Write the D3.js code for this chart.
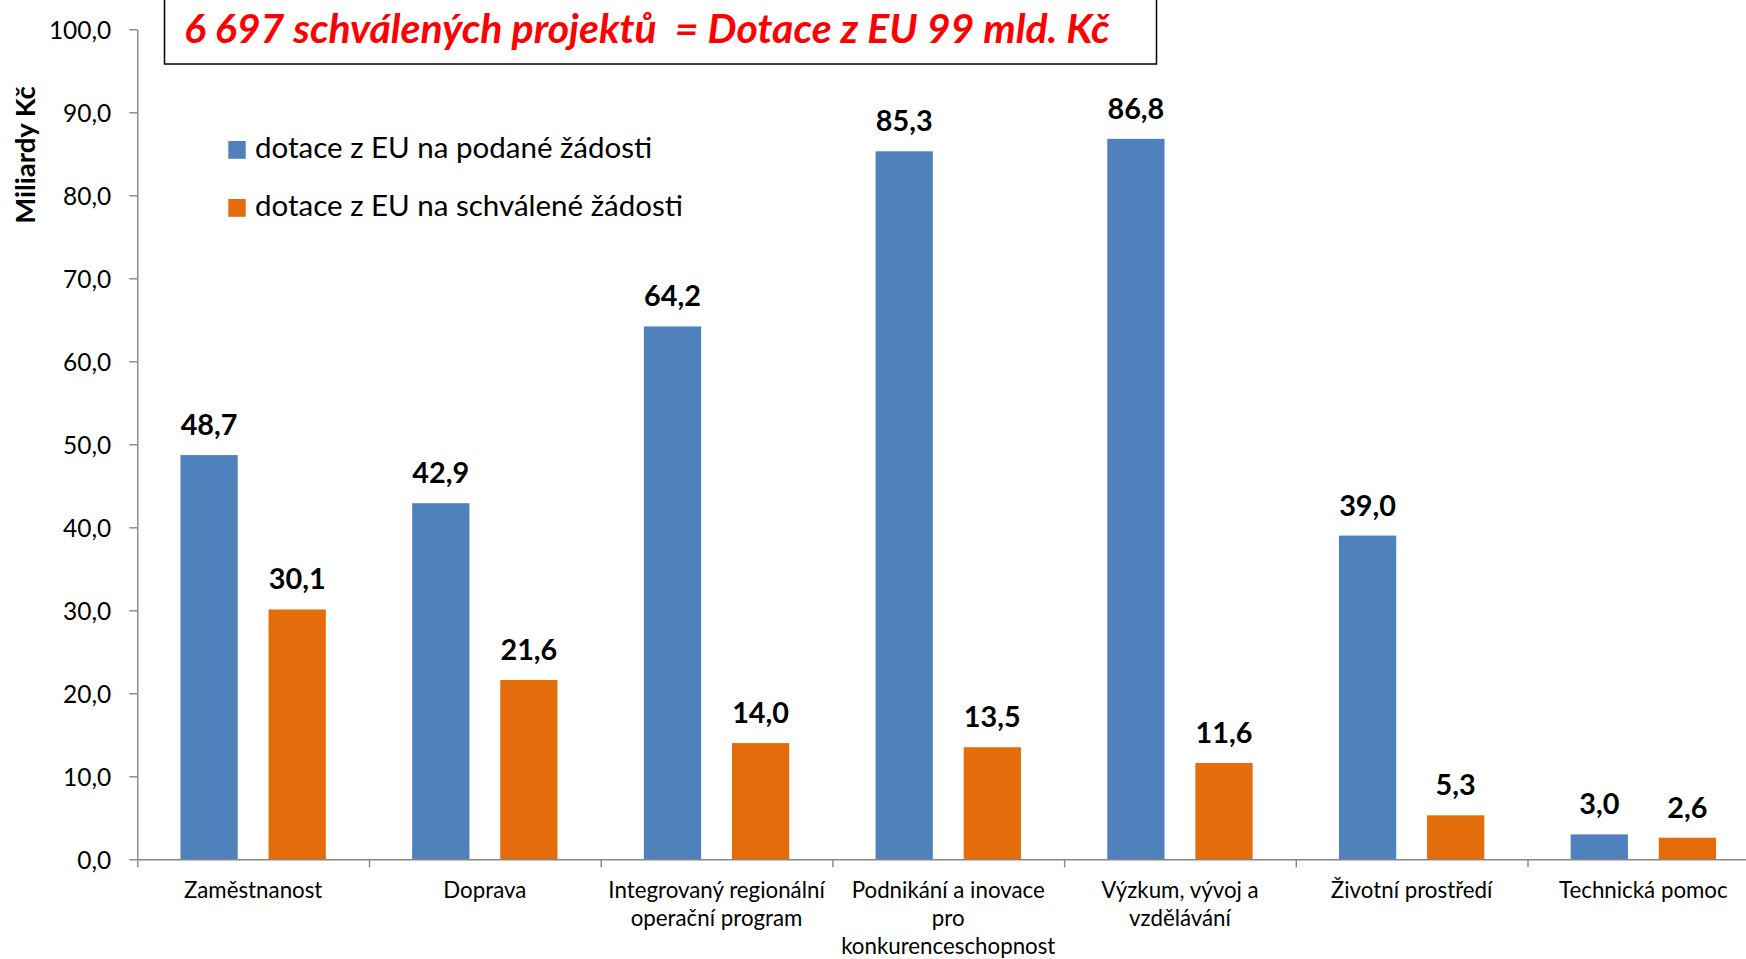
<!DOCTYPE html>
<html><head><meta charset="utf-8">
<script src="https://cdn.jsdelivr.net/npm/d3@7"></script>
<style>
html,body{margin:0;padding:0;background:#fff;overflow:hidden}
svg{display:block;font-family:Lato,"Open Sans",sans-serif}
</style></head>
<body>
<svg id="chart" width="1746" height="959"></svg>
<script>
const categories = ["Zaměstnanost","Doprava","Integrovaný regionální operační program","Podnikání a inovace pro konkurenceschopnost","Výzkum, vývoj a vzdělávání","Životní prostředí","Technická pomoc"];
const categoryLines = [["Zaměstnanost"],["Doprava"],["Integrovaný regionální","operační program"],["Podnikání a inovace","pro","konkurenceschopnost"],["Výzkum, vývoj a","vzdělávání"],["Životní prostředí"],["Technická pomoc"]];
const seriesNames = ["dotace z EU na podané žádosti","dotace z EU na schválené žádosti"];
const podane = [48.7, 42.9, 64.2, 85.3, 86.8, 39.0, 3.0];
const schvalene = [30.1, 21.6, 14.0, 13.5, 11.6, 5.3, 2.6];
const yTicks = [0,10,20,30,40,50,60,70,80,90,100];
const titleText = "6 697 schválených projektů  = Dotace z EU 99 mld. Kč";
const yTitle = "Miliardy Kč";
const colors = ["#4F81BD","#E46C0A"];

(function(){
const svg = d3.select("#chart");
const fmt = v => d3.format(".1f")(v).replace(".", ",");

const plotLeft = 137.3, catW = 231.7, plotBottom = 859.3, plotTop = 29.3;
const y = d3.scaleLinear().domain([0,100]).range([plotBottom, plotTop]);
const x0 = d3.scaleBand().domain(categories).range([plotLeft, plotLeft + catW*categories.length]).padding(0);
const x1 = d3.scaleBand().domain(seriesNames).range([0, x0.bandwidth()]).paddingInner(0.35).paddingOuter(0.49);
const xb = d3.scaleLinear().domain([0, categories.length]).range([plotLeft, plotLeft + catW*categories.length]);

const seriesData = [podane, schvalene];
const rows = categories.map((c,i)=>({cat:c, vals: seriesNames.map((s,k)=>({s, k, v: seriesData[k][i]}))}));

// Bars
const g = svg.selectAll("g.cat").data(rows).enter().append("g").attr("class","cat")
  .attr("transform", d => `translate(${x0(d.cat)},0)`);
g.selectAll("rect").data(d=>d.vals).enter().append("rect")
  .attr("x", d=>x1(d.s)).attr("width", x1.bandwidth())
  .attr("y", d=>y(d.v)).attr("height", d=>y(0)-y(d.v))
  .attr("fill", d=>colors[d.k]);
g.selectAll("text.val").data(d=>d.vals).enter().append("text").attr("class","val")
  .attr("x", d=>x1(d.s)+x1.bandwidth()/2).attr("y", d=>y(d.v)-20)
  .attr("text-anchor","middle").attr("font-weight","bold").attr("font-size",28.8).attr("fill","#000")
  .text(d=>fmt(d.v));

// Y axis
const yAxis = svg.append("g").attr("transform",`translate(${plotLeft},0)`)
  .call(d3.axisLeft(y).tickValues(yTicks).tickSize(8).tickSizeOuter(0).tickPadding(18).tickFormat(fmt));
yAxis.selectAll("path,line").attr("stroke","#868686").attr("stroke-width",1.4);
yAxis.selectAll("text").attr("font-size",24.5).attr("fill","#000").attr("font-family","Lato").attr("dy","0.36em");

// X axis
const xAxis = svg.append("g").attr("transform",`translate(0,${plotBottom})`)
  .call(d3.axisBottom(xb).tickValues(d3.range(categories.length+1)).tickSize(8).tickSizeOuter(0).tickFormat(""));
xAxis.selectAll("path,line").attr("stroke","#868686").attr("stroke-width",1.4);

// Category labels
const cl = svg.selectAll("text.cl").data(categories).enter().append("text").attr("class","cl")
  .attr("text-anchor","middle").attr("font-size",22.3).attr("fill","#000");
cl.each(function(c,i){
  const t = d3.select(this);
  categoryLines[i].forEach((ln,j)=>{
    t.append("tspan").attr("x", x0(c)+x0.bandwidth()/2).attr("y", 897.5 + j*28).text(ln);
  });
});

// Y title
svg.append("text").attr("transform","translate(34.5,155) rotate(-90)")
  .attr("text-anchor","middle").attr("font-weight","bold").attr("font-size",27.5).attr("fill","#000").text(yTitle);

// Legend
const lg = svg.selectAll("g.lg").data(seriesNames).enter().append("g").attr("class","lg")
  .attr("transform",(d,i)=>`translate(228.3,${141 + i*58})`);
lg.append("rect").attr("width",17.4).attr("height",17.8).attr("fill",(d,i)=>colors[i]);
lg.append("text").attr("x",26.7).attr("y",17).attr("font-size",29.5).attr("fill","#000").text(d=>d);

// Title box
svg.append("rect").attr("x",164.5).attr("y",-10).attr("width",992).attr("height",74)
  .attr("fill","#fff").attr("stroke","#000").attr("stroke-width",1.5);
svg.append("text").attr("x",184).attr("y",43).attr("font-size",41).attr("font-weight","bold")
  .attr("font-style","italic").attr("fill","#FF0000").style("white-space","pre").text(titleText);
})();
</script>
</body></html>
